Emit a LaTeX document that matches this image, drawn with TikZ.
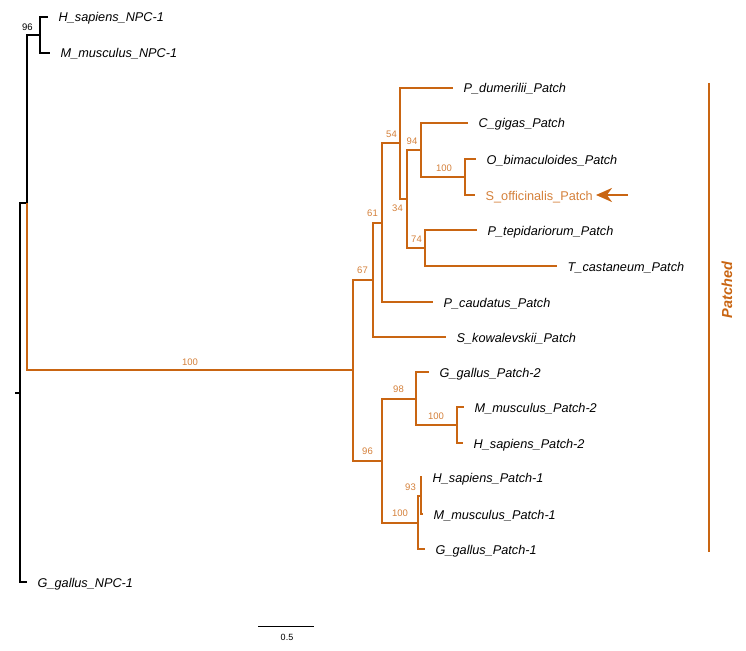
\documentclass[tikz,border=0pt]{standalone}
\usepackage{fontspec}
\setmainfont{Liberation Sans}
\usepackage{tikz}
\usetikzlibrary{arrows.meta, positioning}
\usepackage{xcolor}
\definecolor{patchbr}{RGB}{201,101,18}
\definecolor{patchlbl}{RGB}{212,128,58}
\tikzset{
    branch/.style={line width=2.7pt, draw=black},
    pbranch/.style={line width=2.7pt, draw=patchbr},
    leaf/.style={anchor=west, inner xsep=10.5pt, inner ysep=0pt, text height=12.5pt, text depth=2.5pt, font=\fontsize{12.7}{15}\selectfont\itshape},
    boot/.style={inner sep=0pt, text=patchlbl, font=\fontsize{9.5}{11}\selectfont},
    clade/.style={rotate=90, inner sep=0pt, text=patchbr, font=\fontsize{14.5}{17}\selectfont\bfseries\itshape},
    pointer/.style={-{Stealth[length=16pt, width=14pt]}, line width=2.5pt, draw=patchbr}
}

\begin{document}
\begin{tikzpicture}[x=1pt, y=-1pt]
        \useasboundingbox (0,0) rectangle (746,650);

        % Leaves
        \node[leaf] (hsNPC) at (48,17) {H\_sapiens\_NPC-1};
        \node[leaf] (mmNPC) at (50,53) {M\_musculus\_NPC-1};
        \node[leaf] (ggNPC) at (27,582) {G\_gallus\_NPC-1};
        \node[leaf] (pdum) at (453,88) {P\_dumerilii\_Patch};
        \node[leaf] (cgig) at (468,123) {C\_gigas\_Patch};
        \node[leaf] (obim) at (476,159) {O\_bimaculoides\_Patch};
        \node[leaf, text=patchlbl, font=\fontsize{12.7}{15}\selectfont\upshape] (soff) at (475,195) {S\_officinalis\_Patch};
        \node[leaf] (ptep) at (477,230) {P\_tepidariorum\_Patch};
        \node[leaf] (tcas) at (557,266) {T\_castaneum\_Patch};
        \node[leaf] (pcau) at (433,302) {P\_caudatus\_Patch};
        \node[leaf] (skow) at (446,337) {S\_kowalevskii\_Patch};
        \node[leaf] (ggP2) at (429,372) {G\_gallus\_Patch-2};
        \node[leaf] (mmP2) at (464,407) {M\_musculus\_Patch-2};
        \node[leaf] (hsP2) at (463,443) {H\_sapiens\_Patch-2};
        \node[leaf] (hsP1) at (422,477) {H\_sapiens\_Patch-1};
        \node[leaf] (mmP1) at (423,514) {M\_musculus\_Patch-1};
        \node[leaf] (ggP1) at (425,549) {G\_gallus\_Patch-1};

        % Internal nodes
        \coordinate (rootStub) at (15,393);
        \coordinate (root) at (20,393);
        \coordinate (nIn) at (27,203);
        \coordinate (nNPC) at (40,35);
        \coordinate (nPat) at (353,370);
        \coordinate (n67) at (373,280);
        \coordinate (n61) at (382,223);
        \coordinate (n54) at (400,143);
        \coordinate (n34) at (407,199);
        \coordinate (n94) at (421,150);
        \coordinate (nOct) at (465,177);
        \coordinate (n74) at (425,248);
        \coordinate (n96) at (382,461);
        \coordinate (n98) at (416,399);
        \coordinate (nMam2) at (457,425);
        \coordinate (nVert1) at (418,523);
        \coordinate (n93) at (421,496);

        % NPC branches
        \draw[branch] (rootStub) -- (root);
        \draw[branch] (root) |- (nIn);
        \draw[branch] (root) |- (ggNPC.west);
        \draw[branch] (nIn) |- (nNPC);
        \draw[branch] (nNPC) |- (hsNPC.west);
        \draw[branch] (nNPC) |- (mmNPC.west);

        % Patched branches
        \draw[pbranch] (nIn) |- (nPat);
        \draw[pbranch] (nPat) |- (n67);
        \draw[pbranch] (nPat) |- (n96);
        \draw[pbranch] (n67) |- (n61);
        \draw[pbranch] (n67) |- (skow.west);
        \draw[pbranch] (n61) |- (n54);
        \draw[pbranch] (n61) |- (pcau.west);
        \draw[pbranch] (n54) |- (pdum.west);
        \draw[pbranch] (n54) |- (n34);
        \draw[pbranch] (n34) |- (n94);
        \draw[pbranch] (n34) |- (n74);
        \draw[pbranch] (n94) |- (cgig.west);
        \draw[pbranch] (n94) |- (nOct);
        \draw[pbranch] (nOct) |- (obim.west);
        \draw[pbranch] (nOct) |- (soff.west);
        \draw[pbranch] (n74) |- (ptep.west);
        \draw[pbranch] (n74) |- (tcas.west);
        \draw[pbranch] (n96) |- (n98);
        \draw[pbranch] (n96) |- (nVert1);
        \draw[pbranch] (n98) |- (ggP2.west);
        \draw[pbranch] (n98) |- (nMam2);
        \draw[pbranch] (nMam2) |- (mmP2.west);
        \draw[pbranch] (nMam2) |- (hsP2.west);
        \draw[pbranch] (nVert1) |- (n93);
        \draw[pbranch] (nVert1) |- (ggP1.west);
        \draw[pbranch] (n93) |- (hsP1.west);
        \draw[pbranch] (n93) |- (mmP1.west);

        % Bootstrap values
        \node[boot, text=black] (bNPC) at (27.5,27) {96};
        \node[boot] (bPat) at (190,362) {100};
        \node[boot] (b67) at (362.5,270.5) {67};
        \node[boot] (b61) at (372.5,213.5) {61};
        \node[boot] (b54) at (391.5,134.5) {54};
        \node[boot] (b34) at (397.5,208) {34};
        \node[boot] (b94) at (412,141.5) {94};
        \node[boot] (bOct) at (444,168.5) {100};
        \node[boot] (b74) at (416.5,239.5) {74};
        \node[boot] (b98) at (398.5,389.5) {98};
        \node[boot] (bMam2) at (436,416) {100};
        \node[boot] (b96) at (367.5,451.5) {96};
        \node[boot] (b93) at (410.5,487) {93};
        \node[boot] (bVert1) at (400,513.5) {100};

        % Clade bar and pointer
        \coordinate (barTop) at (709,83);
        \coordinate (barBot) at (709,552);
        \draw[pbranch, line width=2.5pt] (barTop) -- (barBot);
        \node[clade] (cladeLbl) at (727,290) {Patched};
        \coordinate (arrTail) at (628,195);
        \coordinate (arrTip) at (596,195);
        \draw[pointer] (arrTail) -- (arrTip);

        % Scale bar
        \coordinate (sbL) at (258,626);
        \coordinate (sbR) at (314,626);
        \draw[line width=1pt] (sbL) -- (sbR);
        \node[inner sep=0pt, font=\fontsize{9}{11}\selectfont] (sbLbl) at (287,637) {0.5};
\end{tikzpicture}
\end{document}
